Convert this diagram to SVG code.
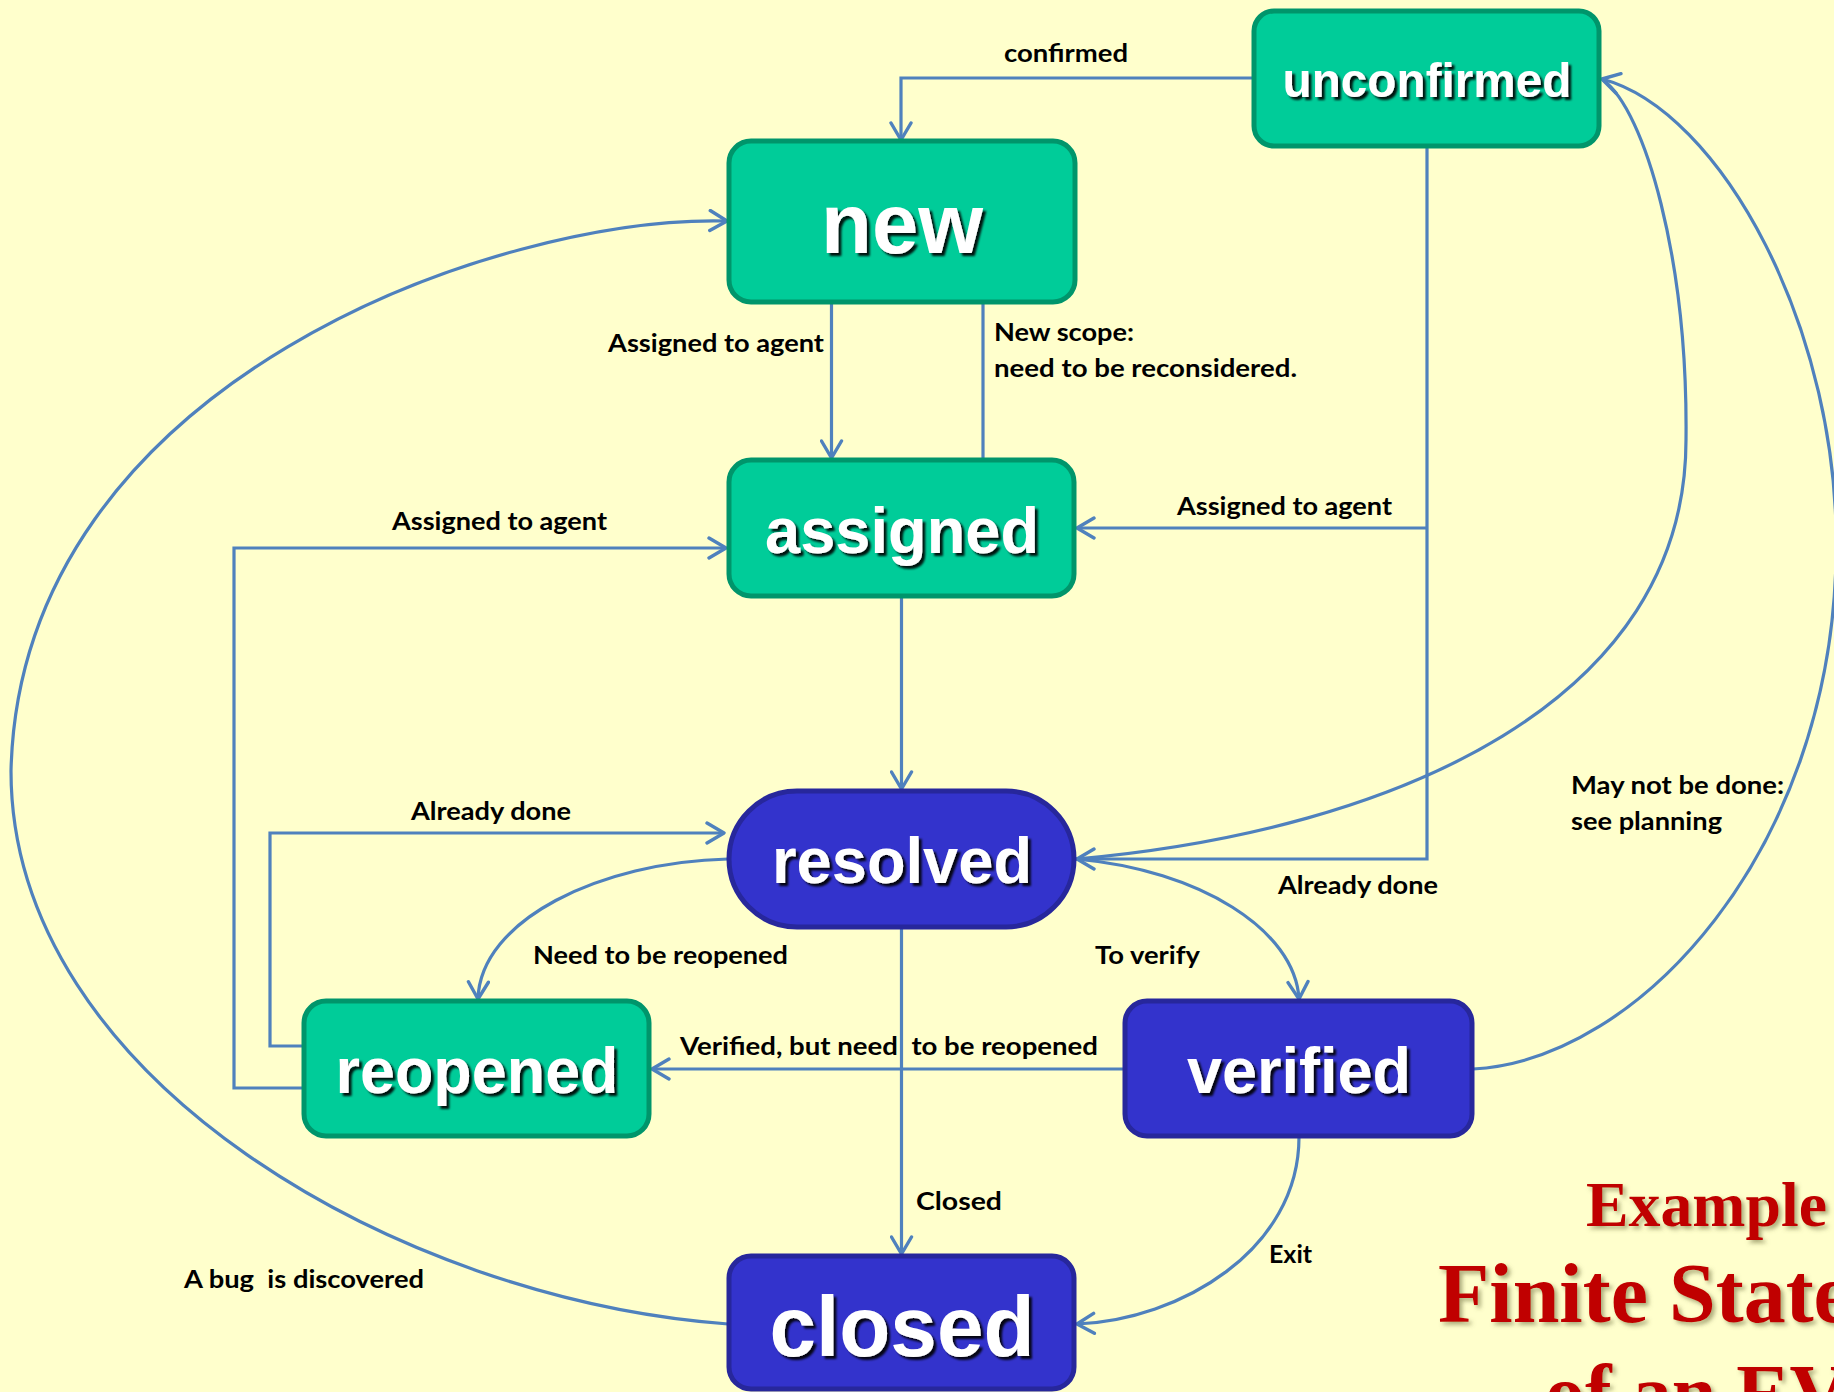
<svg xmlns="http://www.w3.org/2000/svg" width="1834" height="1392" viewBox="0 0 1834 1392">
  <defs>
    <style>
      .bg { fill: #FFFFCC; }
      .green { fill: #00CC99; stroke: #00956B; stroke-width: 5; }
      .blue { fill: #3333CC; stroke: #27279C; stroke-width: 5; }
      .state { fill: #FFFFFF; font-family: "Liberation Sans", Arial, sans-serif; font-weight: bold; text-anchor: middle; filter: url(#txtShadow); }
      .edge { fill: none; stroke: #4F81BD; stroke-width: 3.2; }
      .arrow { marker-end: url(#arr); }
      .lbl { fill: #000000; font-family: Lato, "Open Sans", "Liberation Sans", sans-serif; font-weight: bold; font-size: 25px; }
      .title { fill: #C00000; font-family: "Liberation Serif", "Times New Roman", serif; font-weight: bold; filter: url(#titleShadow); }
    </style>
    <marker id="arr" viewBox="-20 -12 22 24" refX="0" refY="0" markerWidth="22" markerHeight="24" markerUnits="userSpaceOnUse" orient="auto">
      <path d="M -17 -10 L 0 0 L -17 10" fill="none" stroke="#4F81BD" stroke-width="3.4" stroke-linecap="round" stroke-linejoin="round"/>
    </marker>
    <filter id="txtShadow" x="-10%" y="-20%" width="130%" height="150%">
      <feDropShadow dx="3" dy="3" stdDeviation="1.2" flood-color="#000000" flood-opacity="0.9"/>
    </filter>
    <filter id="titleShadow" x="-10%" y="-20%" width="130%" height="150%">
      <feDropShadow dx="3" dy="3" stdDeviation="2" flood-color="#6B6B3A" flood-opacity="0.55"/>
    </filter>
  </defs>

  <rect class="bg" x="0" y="0" width="1834" height="1392"/>

  <!-- transitions -->
  <g id="connectors">
    <!-- unconfirmed -> new -->
    <path class="edge arrow" d="M 1253 78 L 901 78 L 901 140"/>
    <!-- new -> assigned -->
    <path class="edge arrow" d="M 831.5 303 L 831.5 458"/>
    <!-- new / assigned rescope -->
    <path class="edge" d="M 983 303 L 983 459"/>
    <!-- unconfirmed -> assigned / resolved -->
    <path class="edge arrow" d="M 1427 147 L 1427 859 L 1077 859"/>
    <path class="edge arrow" d="M 1427 528 L 1077 528"/>
    <!-- assigned -> resolved -->
    <path class="edge arrow" d="M 901.5 597 L 901.5 789"/>
    <!-- reopened -> assigned -->
    <path class="edge arrow" d="M 303 1088 L 234 1088 L 234 548 L 726 548"/>
    <!-- reopened -> resolved -->
    <path class="edge arrow" d="M 303 1046 L 270 1046 L 270 833 L 724 833"/>
    <!-- resolved -> reopened -->
    <path class="edge arrow" d="M 728 859 C 600 862 480 920 478 999"/>
    <!-- resolved -> verified -->
    <path class="edge arrow" d="M 1076 859 C 1200 870 1295 930 1299 999"/>
    <!-- resolved -> closed -->
    <path class="edge arrow" d="M 901.5 928 L 901.5 1254"/>
    <!-- verified -> reopened -->
    <path class="edge arrow" d="M 1124 1069 L 652 1069"/>
    <!-- verified -> closed -->
    <path class="edge arrow" d="M 1299 1137 C 1299 1250 1180 1320 1077 1324"/>
    <!-- closed -> new -->
    <path class="edge arrow" d="M 728 1324 C 400 1300 11 1080 11 771 C 20 380 500 215 727 221"/>
    <!-- resolved -> unconfirmed -->
    <path class="edge" d="M 1076 859 C 1400 830 1686 700 1686 440 C 1688 260 1645 110 1603 80"/>
    <!-- verified -> unconfirmed -->
    <path class="edge arrow" d="M 1473 1069 C 1640 1060 1830 850 1836 560 C 1842 330 1720 110 1602 79"/>

    <!-- transition labels -->
    <text class="lbl" x="1004" y="62" textLength="124" lengthAdjust="spacingAndGlyphs">confirmed</text>
    <text class="lbl" x="608" y="352" textLength="216" lengthAdjust="spacingAndGlyphs">Assigned to agent</text>
    <text class="lbl" x="994" y="341" textLength="140" lengthAdjust="spacingAndGlyphs">New scope:</text>
    <text class="lbl" x="994" y="377" textLength="303" lengthAdjust="spacingAndGlyphs">need to be reconsidered.</text>
    <text class="lbl" x="1177" y="515" textLength="215" lengthAdjust="spacingAndGlyphs">Assigned to agent</text>
    <text class="lbl" x="392" y="530" textLength="215" lengthAdjust="spacingAndGlyphs">Assigned to agent</text>
    <text class="lbl" x="411" y="820" textLength="160" lengthAdjust="spacingAndGlyphs">Already done</text>
    <text class="lbl" x="533" y="964" textLength="255" lengthAdjust="spacingAndGlyphs">Need to be reopened</text>
    <text class="lbl" x="680" y="1055" textLength="418" lengthAdjust="spacingAndGlyphs" xml:space="preserve">Verified, but need  to be reopened</text>
    <text class="lbl" x="1095" y="964" textLength="105" lengthAdjust="spacingAndGlyphs">To verify</text>
    <text class="lbl" x="1278" y="894" textLength="160" lengthAdjust="spacingAndGlyphs">Already done</text>
    <text class="lbl" x="916" y="1210" textLength="86" lengthAdjust="spacingAndGlyphs">Closed</text>
    <text class="lbl" x="1269" y="1263" textLength="43" lengthAdjust="spacingAndGlyphs">Exit</text>
    <text class="lbl" x="1571" y="794" textLength="213" lengthAdjust="spacingAndGlyphs">May not be done:</text>
    <text class="lbl" x="1571" y="830" textLength="151" lengthAdjust="spacingAndGlyphs">see planning</text>
    <text class="lbl" x="184" y="1288" textLength="240" lengthAdjust="spacingAndGlyphs" xml:space="preserve">A bug  is discovered</text>
  </g>

  <!-- states -->
  <g id="unconfirmed">
    <rect class="green" x="1254" y="11" width="345" height="135" rx="20"/>
    <text class="state" x="1427" y="97" font-size="48" textLength="289" lengthAdjust="spacingAndGlyphs">unconfirmed</text>
  </g>
  <g id="new">
    <rect class="green" x="729" y="141" width="346" height="161" rx="22"/>
    <text class="state" x="902" y="253" font-size="86" textLength="162" lengthAdjust="spacingAndGlyphs">new</text>
  </g>
  <g id="assigned">
    <rect class="green" x="729" y="460" width="345" height="136" rx="22"/>
    <text class="state" x="902" y="553" font-size="64" textLength="274" lengthAdjust="spacingAndGlyphs">assigned</text>
  </g>
  <g id="resolved">
    <rect class="blue" x="729" y="791" width="345" height="136" rx="68"/>
    <text class="state" x="902" y="883" font-size="64" textLength="260" lengthAdjust="spacingAndGlyphs">resolved</text>
  </g>
  <g id="reopened">
    <rect class="green" x="304" y="1001" width="345" height="135" rx="22"/>
    <text class="state" x="477" y="1093" font-size="64" textLength="283" lengthAdjust="spacingAndGlyphs">reopened</text>
  </g>
  <g id="verified">
    <rect class="blue" x="1125" y="1001" width="347" height="135" rx="22"/>
    <text class="state" x="1299" y="1093" font-size="64" textLength="224" lengthAdjust="spacingAndGlyphs">verified</text>
  </g>
  <g id="closed">
    <rect class="blue" x="729" y="1256" width="345" height="133" rx="22"/>
    <text class="state" x="902" y="1356" font-size="86" textLength="265" lengthAdjust="spacingAndGlyphs">closed</text>
  </g>

  <!-- caption -->
  <g id="caption">
    <text class="title" x="1586" y="1226" font-size="64" textLength="241" lengthAdjust="spacingAndGlyphs">Example</text>
    <text class="title" x="1438" y="1322" font-size="84">Finite State</text>
    <text class="title" x="1545" y="1420" font-size="80">of an EV</text>
  </g>
</svg>
